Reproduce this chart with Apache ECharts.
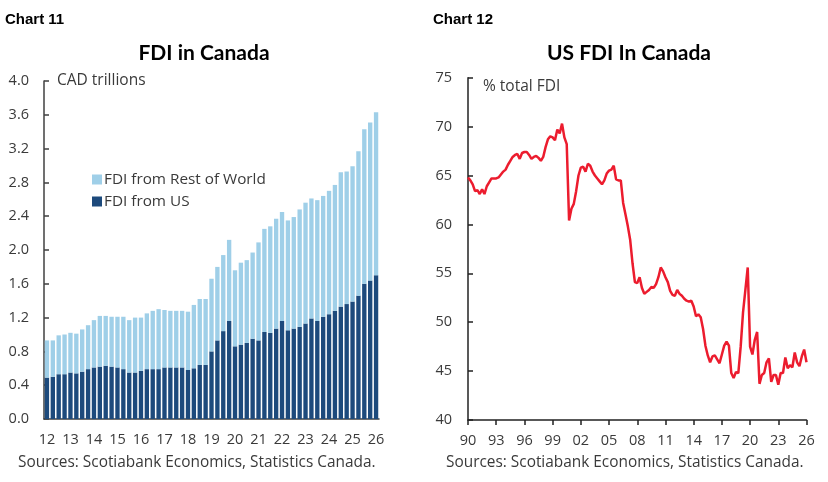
<!DOCTYPE html>
<html><head><meta charset="utf-8">
<script src="https://cdn.jsdelivr.net/npm/echarts@6/dist/echarts.min.js"></script>
<style>html,body{margin:0;padding:0;background:#fff}#c{width:828px;height:482px}</style>
</head><body><div id="c"></div>
<script>
// Chart 11: FDI in Canada, CAD trillions, quarterly 2012Q1 .. 2026Q1
const fdiQuarters = [];
for (let y = 2012; y <= 2026; y++) for (let q = 1; q <= 4; q++) { if (y === 2026 && q > 1) break; fdiQuarters.push(y + 'Q' + q); }
const fdiTotal = [0.93,0.93,0.99,1.00,1.02,1.01,1.06,1.11,1.17,1.22,1.22,1.21,1.21,1.21,1.17,1.20,1.20,1.25,1.28,1.30,1.29,1.28,1.28,1.28,1.27,1.35,1.42,1.42,1.66,1.80,1.94,2.12,1.76,1.85,1.88,1.97,2.09,2.25,2.28,2.37,2.45,2.35,2.39,2.48,2.56,2.61,2.59,2.64,2.70,2.77,2.92,2.93,2.99,3.17,3.43,3.51,3.63];
const fdiUS = [0.49,0.50,0.53,0.53,0.55,0.54,0.56,0.59,0.61,0.62,0.63,0.62,0.61,0.59,0.55,0.55,0.57,0.59,0.59,0.59,0.61,0.61,0.61,0.61,0.58,0.60,0.64,0.64,0.80,0.93,1.04,1.16,0.86,0.88,0.90,0.95,0.93,1.03,1.02,1.07,1.16,1.05,1.07,1.09,1.13,1.19,1.16,1.21,1.24,1.28,1.33,1.36,1.39,1.46,1.60,1.64,1.70];
const fdiRest = fdiTotal.map((t, i) => +(t - fdiUS[i]).toFixed(2));
const leftTicks = ['0.0','0.4','0.8','1.2','1.6','2.0','2.4','2.8','3.2','3.6','4.0'];

// Chart 12: US FDI share, % of total FDI, quarterly 1990Q1 .. 2026Q1
const shareQuarters = [];
for (let y = 1990; y <= 2026; y++) for (let q = 1; q <= 4; q++) { if (y === 2026 && q > 1) break; shareQuarters.push(y + 'Q' + q); }
const usShare = [64.8,64.5,64.1,63.4,63.5,63.1,63.6,63.1,63.9,64.3,64.7,64.7,64.7,64.8,65.1,65.4,65.6,66.1,66.5,66.9,
67.1,67.2,66.7,67.3,67.4,67.4,67.1,66.7,66.9,67.0,66.8,66.5,66.9,67.9,68.7,69.0,68.9,68.6,69.7,69.3,
70.3,68.9,68.2,60.4,61.6,62.1,63.4,65.0,65.8,65.9,65.4,66.2,66.0,65.4,65.0,64.7,64.4,64.1,64.5,65.2,
65.5,65.6,66.0,64.6,64.5,64.5,62.2,61.0,59.8,58.4,56.0,54.1,54.0,54.6,53.5,52.9,53.1,53.3,53.6,53.5,
53.9,54.6,55.6,55.2,54.6,54.1,53.2,52.8,52.7,53.3,52.9,52.7,52.4,52.2,52.1,52.2,51.6,50.6,50.8,50.5,
49.3,47.6,46.6,45.9,46.5,46.6,46.2,45.8,46.7,47.6,48.0,47.6,44.8,44.3,44.9,44.8,47.5,51.0,53.3,55.6,
47.5,46.7,48.2,49.0,43.7,44.6,44.8,45.9,46.3,43.9,44.6,44.6,43.6,44.8,44.8,46.4,45.3,45.6,45.4,46.9,
45.9,45.5,46.5,47.2,45.9];

const FONT = 'Open Sans';
const TXT = '#3a3a3a';
const AX = '#404040';
const chart = echarts.init(document.getElementById('c'), null, {renderer: 'canvas'});
chart.setOption({
  animation: false,
  backgroundColor: '#fff',
  textStyle: {fontFamily: FONT, color: TXT},
  title: [
    {text: 'Chart 11', left: 0, top: 7, textStyle: {fontFamily: 'Liberation Sans', fontWeight: 'bold', fontSize: 15, color: '#000'}},
    {text: 'Chart 12', left: 428, top: 7, textStyle: {fontFamily: 'Liberation Sans', fontWeight: 'bold', fontSize: 15, color: '#000'}},
    {text: 'FDI in Canada', left: 199, textAlign: 'center', top: 38, textStyle: {fontFamily: 'Lato', fontWeight: 'bold', fontSize: 21, color: '#000'}},
    {text: 'US FDI In Canada', left: 624, textAlign: 'center', top: 38, textStyle: {fontFamily: 'Lato', fontWeight: 'bold', fontSize: 21, color: '#000'}},
    {text: 'CAD trillions', left: 52, top: 68, textStyle: {fontFamily: FONT, fontWeight: 'normal', fontSize: 15.5, color: TXT}},
    {text: '% total FDI', left: 478, top: 74, textStyle: {fontFamily: FONT, fontWeight: 'normal', fontSize: 15.5, color: TXT}},
    {text: 'Sources: Scotiabank Economics, Statistics Canada.', left: 13, top: 450, textStyle: {fontFamily: FONT, fontWeight: 'normal', fontSize: 15.4, color: TXT}},
    {text: 'Sources: Scotiabank Economics, Statistics Canada.', left: 441, top: 450, textStyle: {fontFamily: FONT, fontWeight: 'normal', fontSize: 15.4, color: TXT}}
  ],
  legend: {
    data: ['FDI from Rest of World', 'FDI from US'],
    orient: 'vertical', left: 92, top: 172, padding: 0, itemWidth: 10, itemHeight: 10, itemGap: 7,
    icon: 'rect', textStyle: {fontFamily: FONT, fontSize: 15.3, color: TXT, padding: [0,0,0,-3]}
  },
  grid: [
    {left: 44, top: 81, width: 335, height: 338},
    {left: 468, top: 77.7, width: 338.5, height: 342.3}
  ],
  xAxis: [
    {gridIndex: 0, type: 'category', data: fdiQuarters, boundaryGap: true,
     axisLine: {lineStyle: {color: AX, width: 1.5}},
     axisTick: {interval: 3, length: 5, lineStyle: {color: AX, width: 1.5}},
     axisLabel: {interval: 3, margin: 13, fontSize: 14.5, color: TXT, fontFamily: FONT, formatter: v => v.slice(2, 4)}},
    {gridIndex: 1, type: 'category', data: shareQuarters, boundaryGap: false,
     axisLine: {lineStyle: {color: '#222', width: 1.5}},
     axisTick: {interval: 11, length: 5, lineStyle: {color: '#222', width: 1.5}},
     axisLabel: {interval: 11, margin: 13, fontSize: 14.5, color: TXT, fontFamily: FONT, formatter: v => v.slice(2, 4)}}
  ],
  yAxis: [
    {gridIndex: 0, type: 'value', min: 0, max: 4, interval: 0.4,
     axisLine: {show: true, lineStyle: {color: AX, width: 1.5}},
     axisTick: {show: true, inside: true, length: 5, lineStyle: {color: AX, width: 1.5}},
     splitLine: {show: false},
     axisLabel: {margin: 15, fontSize: 14.5, color: TXT, fontFamily: FONT, formatter: v => leftTicks[Math.round(v / 0.4)]}},
    {gridIndex: 1, type: 'value', min: 40, max: 75, interval: 5,
     axisLine: {show: true, lineStyle: {color: '#222', width: 1.5}},
     axisTick: {show: true, inside: true, length: 5, lineStyle: {color: '#222', width: 1.5}},
     splitLine: {show: false},
     axisLabel: {margin: 16, fontSize: 14.5, color: TXT, fontFamily: FONT}}
  ],
  series: [
    {name: 'FDI from US', type: 'bar', stack: 'fdi', xAxisIndex: 0, yAxisIndex: 0, data: fdiUS,
     barCategoryGap: '26%', itemStyle: {color: '#1d4a7c'}},
    {name: 'FDI from Rest of World', type: 'bar', stack: 'fdi', xAxisIndex: 0, yAxisIndex: 0, data: fdiRest,
     barCategoryGap: '26%', itemStyle: {color: '#9fcfe8'}},
    {name: 'US share', type: 'line', xAxisIndex: 1, yAxisIndex: 1, data: usShare,
     showSymbol: false, symbol: 'none', lineStyle: {color: '#ec1c2e', width: 2.5}}
  ]
});
</script></body></html>
